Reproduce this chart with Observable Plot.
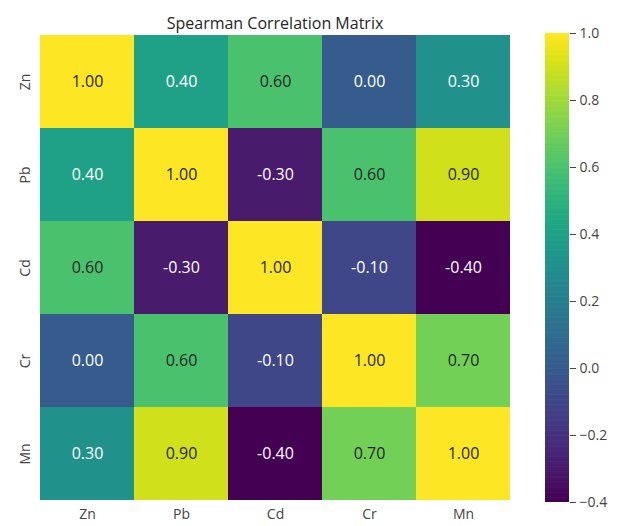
<!DOCTYPE html>
<html>
<head>
<meta charset="utf-8">
<script src="https://cdn.jsdelivr.net/npm/d3@7"></script>
<script src="https://cdn.jsdelivr.net/npm/@observablehq/plot@0.6"></script>
<style>
  body { margin: 0; background: #fff; }
  #wrap { position: relative; width: 618px; height: 526px; font-family: "Open Sans", sans-serif; }
  #cbar { position: absolute; left: 530px; top: 0; }
</style>
</head>
<body>
<div id="wrap"><div id="main"></div><div id="cbar"></div></div>
<script>
const labels = ["Zn", "Pb", "Cd", "Cr", "Mn"];
const matrix = [
  [1.00, 0.40, 0.60, 0.00, 0.30],
  [0.40, 1.00, -0.30, 0.60, 0.90],
  [0.60, -0.30, 1.00, -0.10, -0.40],
  [0.00, 0.60, -0.10, 1.00, 0.70],
  [0.30, 0.90, -0.40, 0.70, 1.00]
];
const colorDomain = [-0.4, 1.0];
const colorTicks = [-0.4, -0.2, 0.0, 0.2, 0.4, 0.6, 0.8, 1.0];
const title = "Spearman Correlation Matrix";

const cells = [];
matrix.forEach((row, i) => row.forEach((v, j) => cells.push({row: labels[i], col: labels[j], v})));

const font = "'Open Sans', sans-serif";

const main = Plot.plot({
  width: 618,
  height: 526,
  marginLeft: 38,
  marginRight: 107,
  marginTop: 33,
  marginBottom: 24,
  style: {fontFamily: font, fontSize: "14px", color: "#444"},
  x: {domain: labels, padding: 0, label: null, tickSize: 0, tickPadding: 7},
  y: {domain: labels, padding: 0, label: null, tickSize: 0, tickPadding: 9, tickRotate: -90},
  color: {type: "linear", scheme: "viridis", domain: colorDomain, clamp: true},
  marks: [
    Plot.cell(cells, {x: "col", y: "row", fill: "v", inset: 0}),
    Plot.text(cells, {
      x: "col", y: "row",
      text: d => d.v.toFixed(2),
      fill: d => d.v > 0.5 ? "#262626" : "#ffffff",
      fontSize: 16
    }),
    Plot.text([title], {frameAnchor: "top", dy: -16, fontSize: 16, fill: "#262626", text: d => d})
  ]
});
document.getElementById("main").appendChild(main);

const step = 0.0025;
const stripes = d3.range(colorDomain[0], colorDomain[1] - step / 2, step);
const cbar = Plot.plot({
  width: 88,
  height: 526,
  marginLeft: 15,
  marginRight: 49,
  marginTop: 33,
  marginBottom: 24,
  style: {fontFamily: font, fontSize: "14px", color: "#444"},
  x: {domain: [0, 1], axis: null},
  y: {domain: colorDomain, axis: "right", ticks: colorTicks, tickFormat: d3.format(".1f"), tickSize: 6, tickPadding: 4, label: null},
  color: {type: "linear", scheme: "viridis", domain: colorDomain},
  marks: [
    Plot.rect(stripes, {x1: 0, x2: 1, y1: d => d, y2: d => Math.min(d + step * 1.8, colorDomain[1]), fill: d => d + step / 2})
  ]
});
document.getElementById("cbar").appendChild(cbar);
</script>
</body>
</html>
